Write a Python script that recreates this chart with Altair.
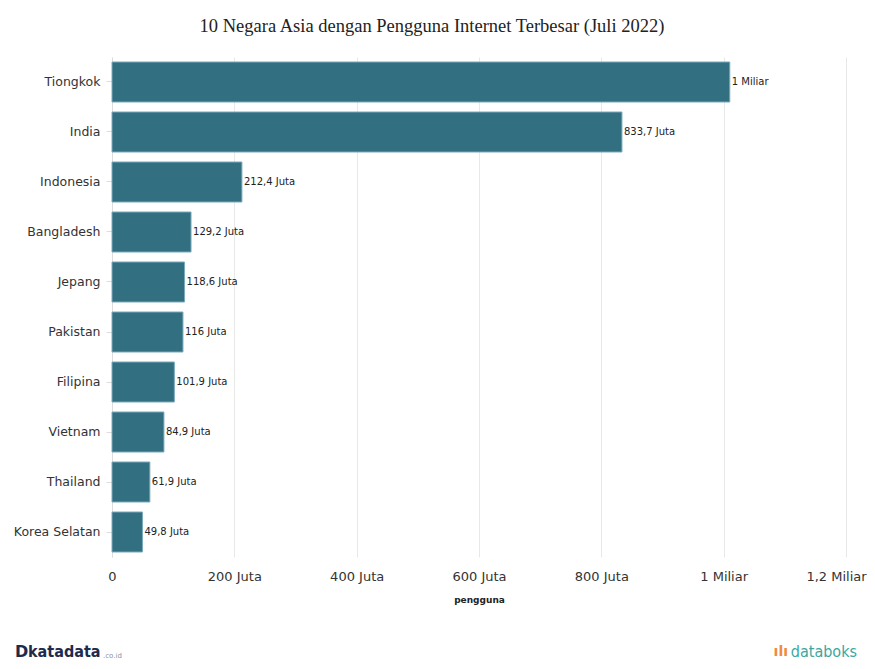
import altair as alt
import pandas as pd

countries = ["Tiongkok", "India", "Indonesia", "Bangladesh", "Jepang", "Pakistan",
             "Filipina", "Vietnam", "Thailand", "Korea Selatan"]
users_million = [1010, 833.7, 212.4, 129.2, 118.6, 116, 101.9, 84.9, 61.9, 49.8]
value_labels = ["1 Miliar", "833,7 Juta", "212,4 Juta", "129,2 Juta", "118,6 Juta",
                "116 Juta", "101,9 Juta", "84,9 Juta", "61,9 Juta", "49,8 Juta"]
x_ticks = [0, 200, 400, 600, 800, 1000, 1200]

df = pd.DataFrame({"negara": countries, "pengguna": users_million, "label": value_labels})

x_enc = alt.X("pengguna:Q",
              scale=alt.Scale(domain=[0, 1200], nice=False),
              axis=alt.Axis(values=x_ticks, title="pengguna",
                            labelExpr="datum.value == 0 ? '0' : (datum.value < 1000 ? datum.value + ' Juta' : replace(format(datum.value/1000, '~g'), '.', ',') + ' Miliar')",
                            labelFont="DejaVu Sans", labelFontSize=13, labelColor="#333333",
                            labelPadding=13, labelFlush=False, labelOverlap=False,
                            labelOffset={"condition": {"test": "datum.value == 1200", "value": -10}, "value": 0},
                            domain=False, ticks=False,
                            grid=True, gridColor="#e8e8e8",
                            titleFont="DejaVu Sans", titleFontSize=9, titleFontWeight="bold",
                            titleColor="#222222", titlePadding=12))
y_enc = alt.Y("negara:N", sort=countries,
              scale=alt.Scale(paddingInner=0.2, paddingOuter=0.1),
              axis=alt.Axis(title=None, labelFont="DejaVu Sans", labelFontSize=12.5,
                            labelColor="#333333", labelPadding=6,
                            domain=True, domainColor="#dddddd", ticks=True, tickColor="#dddddd",
                            tickSize=6))

bars = alt.Chart(df).mark_bar(color="#326f80", stroke="#7aaabb", strokeWidth=1).encode(
    x=x_enc, y=y_enc)

texts = alt.Chart(df).mark_text(align="left", baseline="middle", dx=2,
                                 font="DejaVu Sans", fontSize=10, color="#222222").encode(
    x="pengguna:Q", y=alt.Y("negara:N", sort=countries), text="label:N")

footer_icon = alt.Chart(pd.DataFrame({"t": ["D"]})).mark_text(
    align="left", baseline="middle", font="DejaVu Sans", fontSize=16,
    fontWeight="bold", color="#1d2b4f").encode(
    x=alt.value(-97), y=alt.value(595), text="t:N")
footer_left = alt.Chart(pd.DataFrame({"t": ["katadata"]})).mark_text(
    align="left", baseline="middle", font="DejaVu Sans Condensed", fontSize=16,
    fontWeight="bold", color="#1d2b4f").encode(
    x=alt.value(-84), y=alt.value(595), text="t:N")
footer_coid = alt.Chart(pd.DataFrame({"t": [".co.id"]})).mark_text(
    align="left", baseline="middle", font="DejaVu Sans", fontSize=7,
    color="#8a93a8").encode(
    x=alt.value(-9), y=alt.value(599), text="t:N")
footer_dicon = alt.Chart(pd.DataFrame({"t": ["ılı"]})).mark_text(
    align="right", baseline="middle", font="DejaVu Sans", fontSize=14,
    fontWeight="bold", color="#f08a3c").encode(
    x=alt.value(676), y=alt.value(595), text="t:N")
footer_right = alt.Chart(pd.DataFrame({"t": ["databoks"]})).mark_text(
    align="right", baseline="middle", font="DejaVu Sans Condensed", fontSize=16,
    color="#3aa7a0").encode(
    x=alt.value(745), y=alt.value(595), text="t:N")

chart = alt.layer(bars, texts, footer_icon, footer_left, footer_coid,
                  footer_dicon, footer_right).properties(
    width=734, height=500,
    title=alt.TitleParams("10 Negara Asia dengan Pengguna Internet Terbesar (Juli 2022)",
                          font="Liberation Serif", fontSize=18.5, fontWeight="normal",
                          color="#222222", anchor="middle", dx=-47, offset=22),
    autosize=alt.AutoSizeParams(type="none"),
    padding={"left": 104, "top": 49, "right": 21, "bottom": 103},
).configure_view(stroke=None)

chart.save("out.html", embed_options={"renderer": "svg", "actions": False})
